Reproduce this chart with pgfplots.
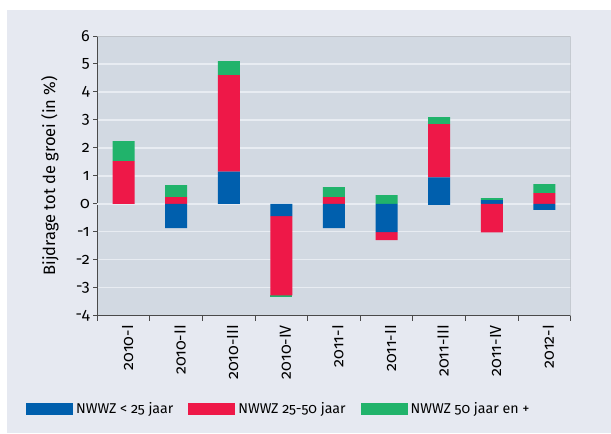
\documentclass[border=0pt]{standalone}
\usepackage{pgfplots}
\pgfplotsset{compat=1.18}
\usepackage{pgfplotstable}
\usepackage{fontspec}
\setmainfont{Fira Sans}[Numbers=OldStyle]
\definecolor{panel}{HTML}{E6E9F1}
\definecolor{plotbg}{HTML}{D2D9E2}
\definecolor{gridc}{HTML}{E8ECF2}
\definecolor{zeroc}{HTML}{A9ABAF}
\definecolor{axisdark}{HTML}{4A4A4A}
\definecolor{axislight}{HTML}{BFC3C9}
\definecolor{cblue}{HTML}{005FAD}
\definecolor{cred}{HTML}{EE1848}
\definecolor{cgreen}{HTML}{21B36B}
\newcommand{\tickfont}{\fontsize{16}{18}\selectfont}
\newcommand{\ylfont}{\fontsize{16.5}{18}\selectfont}
\newcommand{\legfont}{\fontsize{14.2}{16}\selectfont}

% positive parts
\pgfplotstableread{
x  b     r     g
1  0     1.53  0.71
2  0     0.24  0.43
3  1.15  3.45  0.50
4  0     0     0
5  0     0.24  0.36
6  0     0     0.31
7  0.95  1.90  0.25
8  0.13  0     0.07
9  0     0.38  0.32
}\pos
% negative parts
\pgfplotstableread{
x  b     r     g
1  0     0     0
2  -0.87 0     0
3  0     0     0
4  -0.44 -2.83 -0.07
5  -0.87 0     0
6  -1.01 -0.29 0
7  -0.04 0     0
8  0     -1.02 0
9  -0.22 0     0
}\neg

\begin{document}
\begin{tikzpicture}
\fill[panel] (-90.3pt,-117.3pt) rectangle (513.7pt,305.7pt);
\begin{axis}[
  scale only axis, width=473.4pt, height=279.7pt,
  xmin=0.5, xmax=9.5, ymin=-4, ymax=6,
  ybar stacked, bar width=22pt,
  axis lines=left,
  axis line style={-, draw=axisdark, line width=1pt},
  axis background/.style={fill=plotbg},
  ytick={-4,-3,...,6},
  yticklabels={-4,-3,-2,-1,0,1,2,3,4,5,6},
  ymajorgrids,
  major grid style={gridc, line width=1.4pt},
  extra y ticks={0}, extra y tick labels={},
  extra y tick style={grid style={zeroc, line width=1.6pt}, major tick length=0pt},
  xtick={1,...,9},
  xticklabels={2010-I,2010-II,2010-III,2010-IV,2011-I,2011-II,2011-III,2011-IV,2012-I},
  minor xtick={0.5,1.5,...,9.5},
  tick align=outside,
  major tick length=4pt, minor tick length=5pt,
  every major x tick/.append style={draw=none},
  every minor x tick/.append style={draw=axisdark, line width=1pt},
  every major y tick/.append style={draw=axisdark, line width=1pt},
  xticklabel style={rotate=90, anchor=east, font=\tickfont, xshift=-2pt, yshift=-4pt},
  yticklabel style={font=\tickfont},
  ylabel={Bijdrage tot de groei (in \%)},
  ylabel style={font=\ylfont, at={(axis description cs:-0.0999,0.5)}, anchor=center},
  legend style={draw=none, fill=none, at={(axis description cs:-0.1506,-0.3336)}, anchor=west,
    legend columns=3, inner sep=0pt, font=\legfont,
    nodes={inner sep=3pt},
    /tikz/every even column/.append style={column sep=12pt}},
  legend image code/.code={\fill[#1] (0pt,-6pt) rectangle (47pt,6pt);},
]
\addplot[fill=cblue, draw=none, forget plot] table[x=x,y=b] {\neg};
\addplot[fill=cred, draw=none, forget plot] table[x=x,y=r] {\neg};
\addplot[fill=cgreen, draw=none, forget plot] table[x=x,y=g] {\neg};
\addplot[fill=cblue, draw=none] table[x=x,y=b] {\pos};
\addplot[fill=cred, draw=none] table[x=x,y=r] {\pos};
\addplot[fill=cgreen, draw=none] table[x=x,y=g] {\pos};
\legend{NWWZ < 25 jaar, NWWZ 25-50 jaar, NWWZ 50 jaar en +}
\draw[axislight, line width=1pt] (rel axis cs:0,1) -- (rel axis cs:1,1) -- (rel axis cs:1,0);
\end{axis}
\useasboundingbox (-97.3pt,-118.3pt) rectangle (513.7pt,315.7pt);
\end{tikzpicture}
\end{document}
